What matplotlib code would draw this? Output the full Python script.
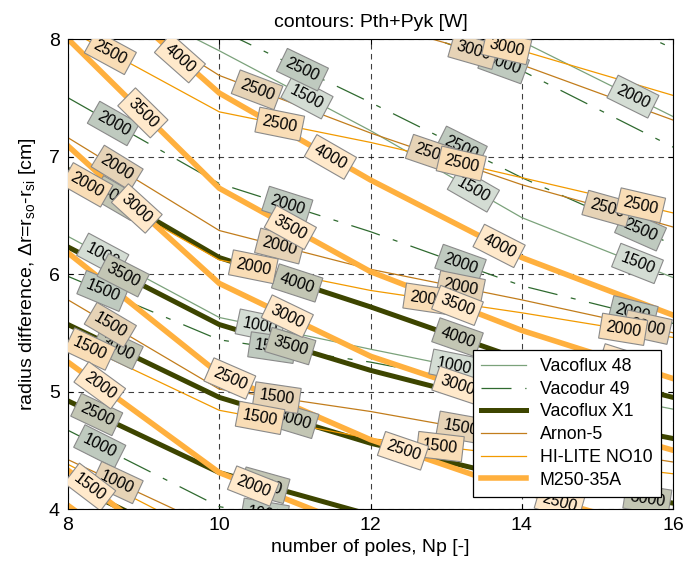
import numpy as np
import matplotlib
matplotlib.use('Agg')
import matplotlib.pyplot as plt

plt.rcParams['font.family'] = ['Liberation Sans', 'DejaVu Sans']
plt.rcParams['mathtext.fontset'] = 'custom'
plt.rcParams['mathtext.rm'] = 'Liberation Sans'

# number of poles where the contour data was sampled
np_poles = [8, 10, 12, 14, 16]

# contour levels [W] -> radius difference [cm] at each Np
vacoflux48 = {
    1000: [6.32, 5.63, 5.36, 5.10, 4.85],
    1500: [8.55, 7.90, 7.22, 6.48, 5.97],
    2000: [9.00, 8.60, 8.30, 7.98, 7.34],
}
vacodur49 = {
    1000: [4.67, 4.02, 3.80, 3.60, 3.40],
    1500: [5.98, 5.44, 5.25, 5.00, 4.75],
    2000: [7.50, 6.77, 6.36, 5.90, 5.58],
    2500: [8.90, 8.08, 7.46, 6.82, 6.25],
    3000: [9.30, 8.70, 8.20, 7.73, 7.08],
    3500: [10.0, 9.40, 8.90, 8.50, 7.92],
}
vacofluxX1 = {
    2000: [4.22, 3.60, 3.20, 2.90, 2.70],
    2500: [4.92, 4.31, 3.95, 3.70, 3.50],
    3000: [5.57, 4.95, 4.56, 4.25, 4.05],
    3500: [6.23, 5.57, 5.18, 4.85, 4.60],
    4000: [6.89, 6.14, 5.72, 5.27, 4.95],
}
arnon5 = {
    1000: [4.42, 3.82, 3.50, 3.30, 3.10],
    1500: [5.78, 5.02, 4.83, 4.60, 4.40],
    2000: [7.16, 6.37, 6.04, 5.78, 5.50],
    2500: [8.50, 7.69, 7.20, 6.76, 6.40],
    3000: [9.00, 8.50, 8.15, 7.78, 7.31],
}
hilite = {
    1000: [4.38, 3.72, 3.40, 3.20, 3.00],
    1500: [5.45, 4.84, 4.60, 4.45, 4.30],
    2000: [6.85, 6.12, 5.86, 5.67, 5.46],
    2500: [8.08, 7.38, 7.12, 6.82, 6.52],
    3000: [9.00, 8.50, 8.20, 7.90, 7.52],
}
m250 = {
    1000: [4.03, 3.10, 2.50, 2.20, 2.00],
    1500: [4.33, 3.35, 2.90, 2.60, 2.40],
    2000: [5.25, 4.31, 3.80, 3.40, 3.00],
    2500: [6.18, 5.15, 4.59, 4.15, 3.78],
    3000: [7.09, 5.92, 5.30, 4.87, 4.50],
    3500: [8.00, 6.73, 6.02, 5.52, 5.11],
    4000: [8.68, 7.54, 6.80, 6.14, 5.65],
}

# inline labels: (level, Np position)
vacoflux48_lbl = [(1000, 8.46), (1000, 10.54), (1000, 13.1), (1500, 11.16),
                  (1500, 13.36), (1500, 15.53), (2000, 15.47)]
vacodur49_lbl = [(1000, 8.42), (1000, 10.6), (1500, 8.46), (1500, 10.7),
                 (2000, 8.6), (2000, 10.9), (2000, 13.19), (2000, 15.47),
                 (2500, 11.1), (2500, 13.2), (2500, 15.57), (3000, 13.76)]
vacofluxX1_lbl = [(2500, 8.38), (2500, 10.6), (3000, 8.65), (3000, 10.98),
                  (3000, 15.66), (3500, 8.73), (3500, 10.94), (4000, 8.65),
                  (4000, 11.03), (4000, 13.15)]
arnon5_lbl = [(1000, 8.65), (1500, 8.56), (1500, 10.76), (1500, 13.19),
              (2000, 8.65), (2000, 10.8), (2000, 13.19), (2000, 15.66),
              (2500, 10.5), (2500, 12.8), (2500, 15.13), (3000, 13.36)]
hilite_lbl = [(1500, 8.29), (1500, 10.54), (1500, 12.92), (2000, 8.25),
              (2000, 10.45), (2000, 12.75), (2000, 15.34), (2500, 8.56),
              (2500, 10.8), (2500, 13.2), (2500, 15.57), (3000, 13.8)]
m250_lbl = [(1500, 8.29), (2000, 8.42), (2000, 10.45), (2500, 10.14),
            (2500, 12.43), (2500, 14.5), (3000, 8.91), (3000, 10.9),
            (3000, 13.15), (3500, 8.99), (3500, 10.94), (3500, 13.15),
            (3500, 15.34), (4000, 9.48), (4000, 11.47), (4000, 13.7)]

materials = [
    ('Vacoflux 48', vacoflux48, vacoflux48_lbl,
     dict(color='#7ba27b', lw=0.9), '#d4ddd4'),
    ('Vacodur 49', vacodur49, vacodur49_lbl,
     dict(color='#2f6a2f', lw=0.9, dashes=(24, 11, 4, 11)), '#bfcabf'),
    ('Vacoflux X1', vacofluxX1, vacofluxX1_lbl,
     dict(color='#3d4500', lw=3.6), '#c3c6b4'),
    ('Arnon-5', arnon5, arnon5_lbl,
     dict(color='#c27d1c', lw=0.9), '#e6d3b6'),
    ('HI-LITE NO10', hilite, hilite_lbl,
     dict(color='#f29a00', lw=0.9), '#f9ddb6'),
    ('M250-35A', m250, m250_lbl,
     dict(color='#ffb03e', lw=4.0), '#ffe9cb'),
]

fig = plt.figure(figsize=(6.84, 5.62), dpi=100)
ax = fig.add_axes([0.0994, 0.0943, 0.8846, 0.8363])


def put_label(ax, ys, xv, level, face):
    y = np.interp(xv, np_poles, ys)
    i = int(np.clip(np.searchsorted(np_poles, xv) - 1, 0, len(np_poles) - 2))
    slope = (ys[i + 1] - ys[i]) / (np_poles[i + 1] - np_poles[i])
    ang = np.degrees(np.arctan2(slope, 1.0))
    t = ax.text(xv, y, str(level), rotation=ang, transform_rotates_text=True,
                rotation_mode='anchor', ha='center', va='center', fontsize=11.5,
                bbox=dict(boxstyle='square,pad=0.32', fc=face, ec='#8a8a8a', lw=0.8),
                clip_on=True, zorder=3)
    t.set_clip_path(ax.patch)


for name, levels, lbls, style, face in materials:
    first = True
    for lev, ys in levels.items():
        ax.plot(np_poles, ys, label=name if first else None, zorder=2, **style)
        first = False
    for lev, xv in lbls:
        put_label(ax, levels[lev], xv, lev, face)

ax.set_xlim(8, 16)
ax.set_ylim(4, 8)
ax.set_xticks([8, 10, 12, 14, 16])
ax.set_yticks([4, 5, 6, 7, 8])
ax.grid(True, color='k', ls=(0, (5, 4)), lw=0.8, alpha=0.75)
ax.tick_params(direction='in', top=True, right=True, labelsize=14, pad=6)

ax.set_title('contours: Pth+Pyk [W]', fontsize=14, pad=9)
ax.set_xlabel('number of poles, Np [-]', fontsize=14, labelpad=3)
ax.set_ylabel('radius difference, Δr=r$_\\mathregular{so}$-r$_\\mathregular{si}$ [cm]',
              fontsize=14, labelpad=8)

leg = ax.legend(loc='lower right', fontsize=12.8, fancybox=False, framealpha=1,
                edgecolor='k', borderaxespad=0.7, handlelength=2.5,
                handletextpad=0.8, labelspacing=0.32, borderpad=0.45)
leg.get_frame().set_linewidth(0.9)
leg.set_zorder(10)

fig.savefig('out.png', dpi=100)
